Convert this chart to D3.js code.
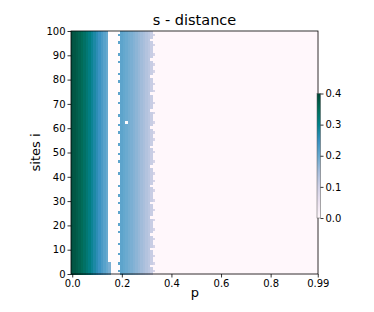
<!DOCTYPE html>
<html>
<head>
<meta charset="utf-8">
<script src="https://cdn.jsdelivr.net/npm/d3@7"></script>
<style>
  body { margin: 0; background: #fff; }
  text { font-family: "DejaVu Sans", sans-serif; fill: #000; }
</style>
</head>
<body>
<div id="chart"></div>
<script>
// value per p-column (p = 0.00, 0.01, ...); columns after these are 0
const band1 = [0.385, 0.378, 0.37, 0.36, 0.35, 0.337, 0.322, 0.307, 0.29, 0.275, 0.26, 0.245, 0.23, 0.215, 0.2, 0.185];
const band2 = [0.21, 0.203, 0.197, 0.19, 0.184, 0.177, 0.17, 0.162, 0.153, 0.145, 0.135, 0.125, 0.11, 0.09];
const band2Start = 20;

// per row (site 0 at bottom): last column of band 1, first and last column of band 2
const rowEnd1 = [15, 15, 15, 15, 15, 14, 14, 14, 14, 14,
  14, 14, 14, 14, 14, 14, 14, 14, 14, 14,
  14, 14, 14, 14, 14, 14, 14, 14, 14, 14,
  14, 14, 14, 14, 14, 14, 14, 14, 14, 14,
  14, 14, 14, 14, 14, 14, 14, 14, 14, 14,
  14, 14, 14, 14, 14, 14, 14, 14, 14, 14,
  14, 14, 14, 14, 14, 14, 14, 14, 14, 14,
  14, 14, 14, 14, 14, 14, 14, 14, 14, 14,
  14, 14, 14, 14, 14, 14, 14, 14, 14, 14,
  14, 14, 14, 14, 14, 14, 14, 14, 14, 14];
const rowStart2 = [20, 19, 20, 20, 19, 20, 20, 20, 19, 20,
  20, 20, 19, 20, 20, 20, 20, 19, 20, 20,
  19, 20, 20, 20, 20, 19, 20, 20, 20, 19,
  20, 20, 19, 20, 20, 20, 19, 20, 20, 20,
  20, 19, 20, 20, 20, 20, 19, 20, 20, 19,
  20, 20, 20, 19, 20, 20, 20, 20, 19, 20,
  20, 19, 20, 20, 20, 19, 20, 20, 20, 20,
  19, 20, 20, 20, 19, 20, 20, 20, 20, 19,
  20, 20, 19, 20, 20, 20, 20, 19, 20, 20,
  19, 20, 20, 20, 20, 19, 20, 20, 19, 20];
const rowEnd2 = [32, 33, 32, 31, 33, 32, 32, 33, 32, 32,
  31, 33, 32, 32, 33, 32, 31, 32, 33, 32,
  32, 32, 33, 31, 32, 32, 33, 32, 32, 31,
  33, 32, 32, 32, 33, 32, 31, 32, 33, 32,
  32, 33, 32, 32, 31, 32, 33, 32, 32, 32,
  33, 32, 31, 32, 32, 33, 32, 32, 33, 32,
  31, 32, 33, 32, 32, 32, 33, 31, 32, 32,
  33, 32, 32, 32, 31, 33, 32, 32, 33, 32,
  32, 31, 32, 33, 32, 32, 33, 32, 31, 32,
  33, 32, 32, 32, 33, 32, 31, 32, 33, 32];
const holes = [[62, 22]]; // [row, col] cells drawn white

const nCols = 100, nRows = 100;
const xTicks = [0, 0.2, 0.4, 0.6, 0.8, 0.99];
const xTickLabels = ["0.0", "0.2", "0.4", "0.6", "0.8", "0.99"];
const yTicks = [0, 10, 20, 30, 40, 50, 60, 70, 80, 90, 100];
const cbTicks = [0, 0.1, 0.2, 0.3, 0.4];

const pubugn = ["#fff7fb", "#ece2f0", "#d0d1e6", "#a6bddb", "#67a9cf", "#3690c0", "#02818a", "#016c59", "#014636"];

const W = 374, H = 312;
const plotL = 71, plotR = 318, plotT = 31, plotB = 274;

const svg = d3.select("#chart").append("svg").attr("width", W).attr("height", H);

const color = d3.scaleLinear()
  .domain(d3.range(pubugn.length).map(i => i * 0.4 / (pubugn.length - 1)))
  .range(pubugn)
  .clamp(true);

const colScale = d3.scaleBand().domain(d3.range(nCols)).range([plotL, plotR]);
const rowScale = d3.scaleBand().domain(d3.range(nRows)).range([plotB, plotT]);
const x = d3.scaleLinear().domain([-0.005, 0.991]).range([plotL, plotR]);
const y = d3.scaleLinear().domain([0, 100]).range([plotB, plotT]);

function value(r, c) {
  if (holes.some(h => h[0] === r && h[1] === c)) return null;
  if (c <= rowEnd1[r]) return band1[c];
  if (c >= rowStart2[r] && c <= rowEnd2[r]) return band2[Math.max(0, c - band2Start)];
  if (c < band2Start) return null; // gap between bands is whiter
  return 0;
}

const cells = [];
for (let r = 0; r < nRows; r++) {
  for (let c = 0; c < nCols; c++) cells.push({ r, c, v: value(r, c) });
}

svg.append("g")
  .attr("shape-rendering", "crispEdges")
  .selectAll("rect")
  .data(cells)
  .enter()
  .append("rect")
  .attr("x", d => colScale(d.c))
  .attr("y", d => rowScale(d.r))
  .attr("width", colScale.bandwidth() + 0.5)
  .attr("height", rowScale.bandwidth() + 0.5)
  .attr("fill", d => d.v === null ? "#fffbfd" : color(d.v));

svg.append("rect")
  .attr("x", plotL).attr("y", plotT)
  .attr("width", plotR - plotL).attr("height", plotB - plotT)
  .attr("fill", "none").attr("stroke", "#000").attr("stroke-width", 0.8);

const xAxis = svg.append("g")
  .attr("transform", `translate(0,${plotB})`)
  .call(d3.axisBottom(x).tickValues(xTicks).tickSize(3.5).tickPadding(2)
    .tickFormat((d, i) => xTickLabels[i]));
const yAxis = svg.append("g")
  .attr("transform", `translate(${plotL},0)`)
  .call(d3.axisLeft(y).tickValues(yTicks).tickSize(3.5).tickPadding(2));

[xAxis, yAxis].forEach(a => {
  a.select(".domain").remove();
  a.selectAll("line").attr("stroke", "#000").attr("stroke-width", 0.8);
  a.selectAll("text").style("font-family", "DejaVu Sans").style("font-size", "10px");
});

svg.append("text")
  .attr("x", (plotL + plotR) / 2).attr("y", 25)
  .attr("text-anchor", "middle").style("font-size", "14.5px")
  .text("s - distance");

svg.append("text")
  .attr("x", 195).attr("y", 297)
  .attr("text-anchor", "middle").style("font-size", "13px")
  .text("p");

svg.append("text")
  .attr("transform", `translate(40,${(plotT + plotB) / 2}) rotate(-90)`)
  .attr("text-anchor", "middle").style("font-size", "13px")
  .text("sites i");

// colorbar
const cbX = 317, cbW = 3.5, cbTop = 93.5, cbBottom = 218;
const cbY = d3.scaleLinear().domain([0, 0.4]).range([cbBottom, cbTop]);
const grad = svg.append("defs").append("linearGradient")
  .attr("id", "cb").attr("x1", 0).attr("y1", 1).attr("x2", 0).attr("y2", 0);
pubugn.forEach((c, i) => {
  grad.append("stop").attr("offset", i / (pubugn.length - 1)).attr("stop-color", c);
});
svg.append("rect")
  .attr("x", cbX).attr("y", cbTop)
  .attr("width", cbW).attr("height", cbBottom - cbTop)
  .attr("fill", "url(#cb)").attr("stroke", "#555").attr("stroke-width", 0.5);

const cbAxis = svg.append("g")
  .attr("transform", `translate(${cbX + cbW},0)`)
  .call(d3.axisRight(cbY).tickValues(cbTicks).tickSize(3).tickPadding(2).tickFormat(d3.format(".1f")));
cbAxis.select(".domain").remove();
cbAxis.selectAll("line").attr("stroke", "#000").attr("stroke-width", 0.8);
cbAxis.selectAll("text").style("font-family", "DejaVu Sans").style("font-size", "10px");
</script>
</body>
</html>
